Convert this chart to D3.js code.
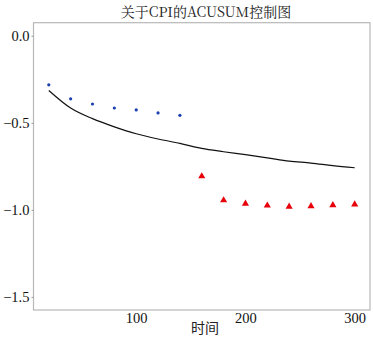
<!DOCTYPE html>
<html><head><meta charset="utf-8">
<script src="https://cdn.jsdelivr.net/npm/d3@7"></script>
<style>body{margin:0;background:#fff}</style>
</head><body>
<svg id="c" width="373" height="337"></svg>
<script>
const lineX = [20,40,60,80,100,120,140,160,180,200,220,240,260,280,300];
const lineY = [-0.314,-0.415,-0.476,-0.523,-0.563,-0.593,-0.618,-0.647,-0.666,-0.683,-0.701,-0.720,-0.731,-0.746,-0.758];
const blueX = [20,40,60,80,100,120,140];
const blueY = [-0.282,-0.362,-0.392,-0.415,-0.426,-0.443,-0.457];
const redX = [160,180,200,220,240,260,280,300];
const redY = [-0.807,-0.945,-0.964,-0.975,-0.981,-0.979,-0.973,-0.969];
const xTicks = [100,200,300];
const yTicks = [0.0,-0.5,-1.0,-1.5];
const title = "关于CPI的ACUSUM控制图";
const xLabel = "时间";

const svg = d3.select("#c");
const L=33.5, R=370, T=22.7, B=310;
const x = d3.scaleLinear().domain([6,314]).range([L,R]);
const y = d3.scaleLinear().domain([-1.575,0.075]).range([B,T]);
const serif = "'Liberation Serif','Times New Roman',serif";

svg.append("rect").attr("x",L).attr("y",T).attr("width",R-L).attr("height",B-T)
  .attr("fill","none").attr("stroke","#b8b8b8").attr("stroke-width",1.2);

const ya = svg.append("g").attr("transform",`translate(${L},0)`)
  .call(d3.axisLeft(y).tickValues(yTicks).tickFormat(d3.format(".1f")).tickSize(2).tickPadding(2));
ya.select(".domain").remove();
ya.selectAll("line").attr("stroke","#999");
ya.selectAll("text").attr("font-family",serif).attr("font-size",14.5).attr("fill","#111");

const xa = svg.append("g").attr("transform",`translate(0,${B})`)
  .call(d3.axisBottom(x).tickValues(xTicks).tickSize(0).tickPadding(3));
xa.select(".domain").remove();
xa.selectAll("text").attr("font-family",serif).attr("font-size",14.5).attr("fill","#111");

svg.append("path").datum(lineX.map((d,i)=>[d,lineY[i]]))
  .attr("d",d3.line().x(d=>x(d[0])).y(d=>y(d[1])).curve(d3.curveMonotoneX))
  .attr("fill","none").attr("stroke","#111").attr("stroke-width",1.2);

svg.selectAll(".b").data(blueX).enter().append("circle")
  .attr("cx",d=>x(d)).attr("cy",(d,i)=>y(blueY[i])).attr("r",1.6).attr("fill","#1a3fb0");

const tri = d3.symbol().type(d3.symbolTriangle).size(22);
svg.selectAll(".r").data(redX).enter().append("path")
  .attr("d",tri).attr("transform",(d,i)=>`translate(${x(d)},${y(redY[i])})`).attr("fill","#e8000b");

svg.append("text").attr("x",206).attr("y",17).attr("text-anchor","middle")
  .attr("font-family","'Noto Serif CJK SC','Noto Sans CJK SC',serif").attr("font-size",14).attr("fill","#222").text(title);
svg.append("text").attr("x",205).attr("y",333).attr("text-anchor","middle")
  .attr("font-family","'Noto Sans CJK SC',sans-serif").attr("font-size",14).attr("fill","#222").text(xLabel);
</script>
</body></html>
